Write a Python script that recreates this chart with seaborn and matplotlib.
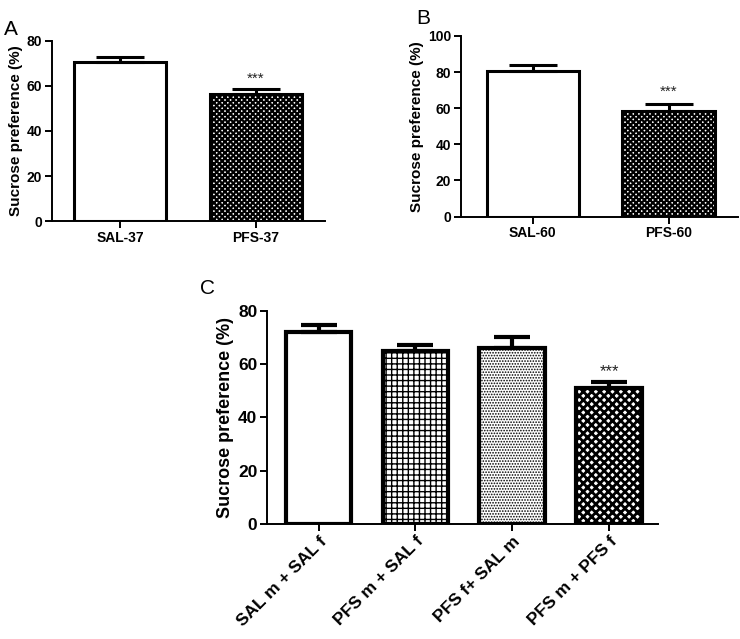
import numpy as np
import pandas as pd
import seaborn as sns
import matplotlib.pyplot as plt

# panel A
a_groups = ["SAL-37", "PFS-37"]
a_means = [70.6, 56.3]
a_sem = [2.1, 2.2]

# panel B
b_groups = ["SAL-60", "PFS-60"]
b_means = [80.6, 58.7]
b_sem = [3.2, 3.5]

# panel C
c_groups = ["SAL m + SAL f", "PFS m + SAL f", "PFS f+ SAL m", "PFS m + PFS f"]
c_means = [71.9, 65.0, 65.9, 50.9]
c_sem = [2.6, 2.2, 4.1, 2.2]

sns.set_theme(style="ticks")
plt.rcParams["font.family"] = ["Liberation Sans", "DejaVu Sans"]
plt.rcParams["text.color"] = "black"
plt.rcParams["axes.labelcolor"] = "black"


def bar_panel(ax, groups, means, sem, hatches, hatch_lw, ymax, ystep,
              xlim, edge_lw, capsize, tick_fs, label_fs, star_y, star_fs,
              rotate=False):
    df = pd.DataFrame({"group": groups, "value": means})
    sns.barplot(data=df, x="group", y="value", color="white",
                edgecolor="black", linewidth=edge_lw, width=0.68,
                errorbar=None, ax=ax, saturation=1)
    for patch, h, hl in zip(ax.patches, hatches, hatch_lw):
        patch.set_facecolor("white")
        if h:
            patch.set_hatch(h)
            try:
                patch.set_hatch_linewidth(hl)
            except AttributeError:
                pass
    x = np.arange(len(groups))
    ax.errorbar(x, means, yerr=[np.zeros(len(sem)), sem], fmt="none",
                ecolor="black", elinewidth=edge_lw, capsize=capsize,
                capthick=edge_lw, zorder=1)
    ax.text(x[-1], star_y, "***", ha="center", va="center",
            fontsize=star_fs, color="#222222")

    ax.set_ylim(0, ymax)
    ax.set_yticks(np.arange(0, ymax + 1, ystep))
    ax.set_xlim(*xlim)
    ax.set_xlabel("")
    ax.set_ylabel("Sucrose preference (%)", fontsize=label_fs,
                  fontweight="bold", labelpad=3)
    sns.despine(ax=ax)
    for s in ("left", "bottom"):
        ax.spines[s].set_linewidth(1.4)
        ax.spines[s].set_color("black")
    ax.tick_params(axis="both", direction="out", width=1.4, length=5,
                   colors="black", labelsize=tick_fs, pad=2)
    for lab in ax.get_yticklabels() + ax.get_xticklabels():
        lab.set_fontweight("bold")
    if rotate:
        ax.set_xticks(x)
        ax.set_xticklabels(groups, rotation=45, ha="right",
                           rotation_mode="anchor", fontweight="bold")


fig = plt.figure(figsize=(7.4, 6.39), dpi=100)

ax_a = fig.add_axes([0.0703, 0.654, 0.369, 0.282])
bar_panel(ax_a, a_groups, a_means, a_sem, [None, "xxxxxx"], [None, 1.6],
          80, 20, (-0.5, 1.51), 2.2, 17, 10, 11, 63, 11)

ax_b = fig.add_axes([0.6226, 0.661, 0.3744, 0.2827])
bar_panel(ax_b, b_groups, b_means, b_sem, [None, "xxxxxx"], [None, 1.6],
          100, 20, (-0.53, 1.51), 2.2, 17, 10, 11, 69, 11)

ax_c = fig.add_axes([0.361, 0.180, 0.528, 0.334])
bar_panel(ax_c, c_groups, c_means, c_sem, [None, "+++", "......", "xxxx"],
          [None, 1.0, 0.8, 2.0], 80, 20, (-0.53, 3.5), 3.0, 13, 12.5, 13,
          57, 12, rotate=True)

fig.text(0.006, 0.945, "A", fontsize=15)
fig.text(0.562, 0.962, "B", fontsize=15)
fig.text(0.270, 0.54, "C", fontsize=15)

fig.savefig("out.png", dpi=100)
